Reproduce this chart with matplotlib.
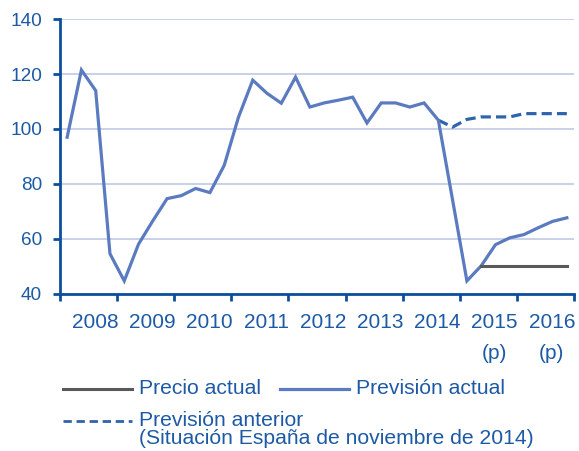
import matplotlib
matplotlib.use("Agg")
import matplotlib.pyplot as plt
from matplotlib.lines import Line2D
import numpy as np

plt.rcParams['font.family'] = ['Liberation Sans', 'DejaVu Sans']

# Quarterly data 2008Q1 .. 2016Q4
years = [2008, 2009, 2010, 2011, 2012, 2013, 2014, 2015, 2016]
year_labels = ["2008", "2009", "2010", "2011", "2012", "2013", "2014", "2015\n(p)", "2016\n(p)"]

prevision_actual = [97, 121.5, 114, 54.5, 44.6, 58, 66.5, 74.6, 75.7, 78.3, 76.8, 86.7,
                    104.3, 117.8, 113, 109.4, 118.9, 108, 109.5, 110.5, 111.6, 102.2, 109.5, 109.5,
                    108, 109.5, 103.2, 74, 44.6, 50.1, 57.8, 60.3, 61.5, 64, 66.3, 67.6]
# previous forecast from 2014Q3 (index 26)
prevision_anterior = [103.2, 100.7, 103.5, 104.4, 104.4, 104.4, 105.6, 105.6, 105.6, 105.6]
anterior_start = 26
# actual price from 2015Q2 (index 29)
precio_actual = [50, 50, 50, 50, 50, 50, 50]
precio_start = 29

W, H = 579, 451
fig = plt.figure(figsize=(W / 100, H / 100), dpi=100)
ax = fig.add_axes([60 / W, 1 - 293.5 / H, (574 - 60) / W, (293.5 - 19.3) / H])

x_all = np.array([2008 + (i + 0.5) / 4 for i in range(len(prevision_actual))])

axis_col = '#0b4f9c'
text_col = '#1d5aa5'
grid_col = '#b9c5e1'

ax.plot(x_all[anterior_start:anterior_start + len(prevision_anterior)], prevision_anterior,
        color='#2f63ad', lw=2.3, linestyle=(0, (3.2, 1.6)), zorder=3)
ax.plot(x_all, prevision_actual, color='#5b7bc0', lw=2.3, zorder=4, solid_joinstyle='miter')
ax.plot(x_all[precio_start:precio_start + len(precio_actual)], precio_actual,
        color='#595959', lw=2.2, zorder=5)

ax.set_xlim(2008, 2017)
ax.set_ylim(40, 140)
ax.set_yticks([40, 60, 80, 100, 120, 140])
ax.set_xticks(list(range(2008, 2018)))
ax.set_xticklabels([])
# labels sit slightly right of the year centre, as in the original
ax.set_xticks([y + 0.612 for y in years], minor=True)
ax.set_xticklabels(year_labels, minor=True)
for t in ax.get_xticklabels(minor=True):
    t.set_linespacing(1.8)
    t.set_verticalalignment('top')

ax.grid(axis='y', color=grid_col, lw=1.1, zorder=0)
ax.set_axisbelow(True)
for s in ['top', 'right']:
    ax.spines[s].set_visible(False)
for s in ['left', 'bottom']:
    ax.spines[s].set_color(axis_col)
    ax.spines[s].set_linewidth(2)

ax.tick_params(axis='both', which='major', direction='out', length=5, width=2,
               color=axis_col, labelcolor=text_col, labelsize=13.7)
ax.tick_params(axis='x', which='major', labelbottom=False)
ax.tick_params(axis='x', which='minor', length=0, labelcolor=text_col, labelsize=15, pad=14)
ax.tick_params(axis='y', pad=8)

# Legend drawn manually
def fx(px):
    return px / W

def fy(py):
    return 1 - py / H

fs = 15.2
fig.add_artist(Line2D([fx(63), fx(132)], [fy(389), fy(389)], color='#595959', lw=2.2))
fig.text(fx(139), fy(389), "Precio actual", color=text_col, fontsize=fs, va='center', ha='left')
fig.add_artist(Line2D([fx(280), fx(349)], [fy(389), fy(389)], color='#5b7bc0', lw=2.3))
fig.text(fx(356), fy(389), "Previsión actual", color=text_col, fontsize=fs, va='center', ha='left')
fig.add_artist(Line2D([fx(63), fx(132)], [fy(420.5), fy(420.5)], color='#2f63ad', lw=2.0,
                      linestyle=(0, (3.0, 1.7))))
fig.text(fx(139), fy(420), "Previsión anterior", color=text_col, fontsize=fs, va='center', ha='left')
fig.text(fx(139), fy(438), "(Situación España de noviembre de 2014)", color=text_col, fontsize=fs,
         va='center', ha='left')

fig.savefig("out.png", dpi=100)
